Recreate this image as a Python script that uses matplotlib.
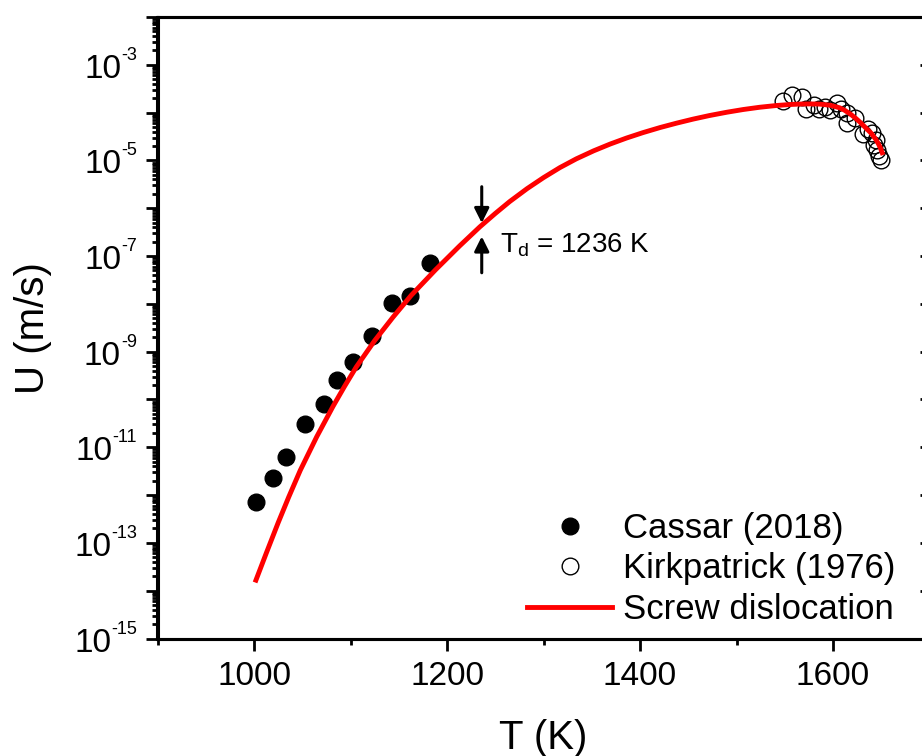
import numpy as np
import matplotlib.pyplot as plt
from matplotlib.ticker import LogLocator, MultipleLocator, NullFormatter
from matplotlib.transforms import offset_copy

plt.rcParams['font.family'] = ['Liberation Sans', 'DejaVu Sans']
plt.rcParams['mathtext.fontset'] = 'custom'
plt.rcParams['mathtext.rm'] = 'Liberation Sans'

# Cassar (2018): temperature (K) and log10 of growth rate (m/s)
cassar_T = [1002, 1020, 1033, 1053, 1073, 1086, 1103, 1122, 1143, 1162, 1182]
cassar_logU = [-12.14, -11.65, -11.20, -10.51, -10.09, -9.59, -9.22, -8.67,
               -7.99, -7.83, -7.14]

# Kirkpatrick (1976)
kirk_T = [1548, 1558, 1568, 1572, 1580, 1586, 1592, 1597, 1604, 1608, 1614,
          1615, 1623, 1631, 1636, 1640, 1645, 1643, 1646, 1648, 1650]
kirk_logU = [-3.75, -3.64, -3.68, -3.93, -3.85, -3.92, -3.88, -3.95, -3.80,
             -3.92, -4.00, -4.22, -4.12, -4.45, -4.35, -4.43, -4.57, -4.68,
             -4.78, -4.90, -4.99]

# screw dislocation model curve
screw_T = [1002, 1013, 1025, 1036, 1048, 1065, 1082, 1094, 1106, 1125, 1144,
           1163, 1188, 1213, 1234, 1250, 1265, 1283, 1300, 1317, 1334, 1352,
           1369, 1386, 1403, 1421, 1438, 1455, 1472, 1490, 1507, 1524, 1542,
           1556, 1566, 1576, 1586, 1597, 1607, 1612, 1618, 1623, 1628, 1632,
           1636, 1640, 1644, 1647, 1649, 1651]
screw_logU = [-13.78, -13.20, -12.58, -12.04, -11.48, -10.78, -10.14, -9.72,
              -9.32, -8.77, -8.28, -7.82, -7.29, -6.79, -6.39, -6.11, -5.86,
              -5.59, -5.36, -5.15, -4.967, -4.799, -4.658, -4.532, -4.419,
              -4.311, -4.220, -4.136, -4.061, -3.992, -3.935, -3.888, -3.850,
              -3.830, -3.821, -3.818, -3.822, -3.845, -3.90, -3.95, -4.03,
              -4.11, -4.20, -4.28, -4.36, -4.44, -4.55, -4.65, -4.73, -4.84]

T_d = 1236
ylabel_exps = [-15, -13, -11, -9, -7, -5, -3]

fig = plt.figure(figsize=(9.22, 7.56), dpi=100)
W, H = 922, 756
ax = fig.add_axes([157.5 / W, (H - 638.5) / H, 772 / W, 621.5 / H])

ax.plot(cassar_T, 10.0 ** np.array(cassar_logU), 'o', color='black',
        markersize=12, linestyle='none', label='Cassar (2018)', zorder=2)
ax.plot(kirk_T, 10.0 ** np.array(kirk_logU), 'o', markerfacecolor='none',
        markeredgecolor='black', markeredgewidth=1, markersize=12,
        linestyle='none', label='Kirkpatrick (1976)', zorder=2)
ax.plot(screw_T, 10.0 ** np.array(screw_logU), color='#ff0000', lw=3.5,
        label='Screw dislocation', zorder=3)

ax.set_yscale('log')
ax.set_xlim(900, 1700)
ax.set_ylim(1e-15, 1e-2)

# arrows marking T_d on the curve
arrow = dict(arrowstyle='-|>', color='black', lw=2.2, mutation_scale=22,
             shrinkA=0, shrinkB=0)
ax.annotate('', xy=(T_d, 10 ** -6.31), xytext=(T_d, 10 ** -5.55),
            arrowprops=arrow)
ax.annotate('', xy=(T_d, 10 ** -6.59), xytext=(T_d, 10 ** -7.35),
            arrowprops=arrow)
ax.text(1255, 10 ** -6.93, r'T$_\mathregular{d}$ = %d K' % T_d, fontsize=20)

# ticks
ax.xaxis.set_major_locator(MultipleLocator(200))
ax.xaxis.set_minor_locator(MultipleLocator(100))
ax.yaxis.set_major_locator(LogLocator(base=10, numticks=30))
ax.yaxis.set_minor_locator(LogLocator(base=10, subs=np.arange(2, 10), numticks=30))
ax.yaxis.set_major_formatter(NullFormatter())
ax.yaxis.set_minor_formatter(NullFormatter())
ax.tick_params(axis='both', which='major', direction='out', length=8.5,
               width=2, labelsize=24, pad=8, top=False, right=False)
ax.tick_params(axis='both', which='minor', direction='out', length=4.3,
               width=2, top=False, right=False)
for s in ax.spines.values():
    s.set_linewidth(2.2)

# right side: inward ticks at decades only
ax2 = ax.twinx()
ax2.set_yscale('log')
ax2.set_ylim(ax.get_ylim())
ax2.yaxis.set_major_locator(LogLocator(base=10, numticks=30))
ax2.yaxis.set_minor_locator(plt.NullLocator())
ax2.yaxis.set_major_formatter(NullFormatter())
ax2.tick_params(axis='y', direction='in', length=7.5, width=2)
for s in ax2.spines.values():
    s.set_linewidth(2.2)

# y tick labels as 10 with a small raised exponent
base = ax.get_yaxis_transform()
fig.canvas.draw()
renderer = fig.canvas.get_renderer()
for e in ylabel_exps:
    sup = ax.text(0, 10.0 ** e, '%d' % e, fontsize=13, ha='right',
                  va='baseline', transform=offset_copy(base, fig=fig, x=-20.5,
                                                       y=5, units='dots'))
    w = sup.get_window_extent(renderer).width
    ax.text(0, 10.0 ** e, '10', fontsize=24, ha='right', va='baseline',
            transform=offset_copy(base, fig=fig, x=-20.5 - w, y=-13,
                                  units='dots'))

ax.set_xlabel('T (K)', fontsize=29)
ax.set_ylabel('U (m/s)', fontsize=29)
ax.xaxis.set_label_coords(0.5, -0.130)
ax.yaxis.set_label_coords(-0.137, 0.5)

ax.legend(loc='lower right', bbox_to_anchor=(0.956, 0.02), frameon=False,
          fontsize=25, borderpad=0, borderaxespad=0, labelspacing=0.22,
          handlelength=2.45, handletextpad=0.32)

fig.savefig('out.png', dpi=100)
